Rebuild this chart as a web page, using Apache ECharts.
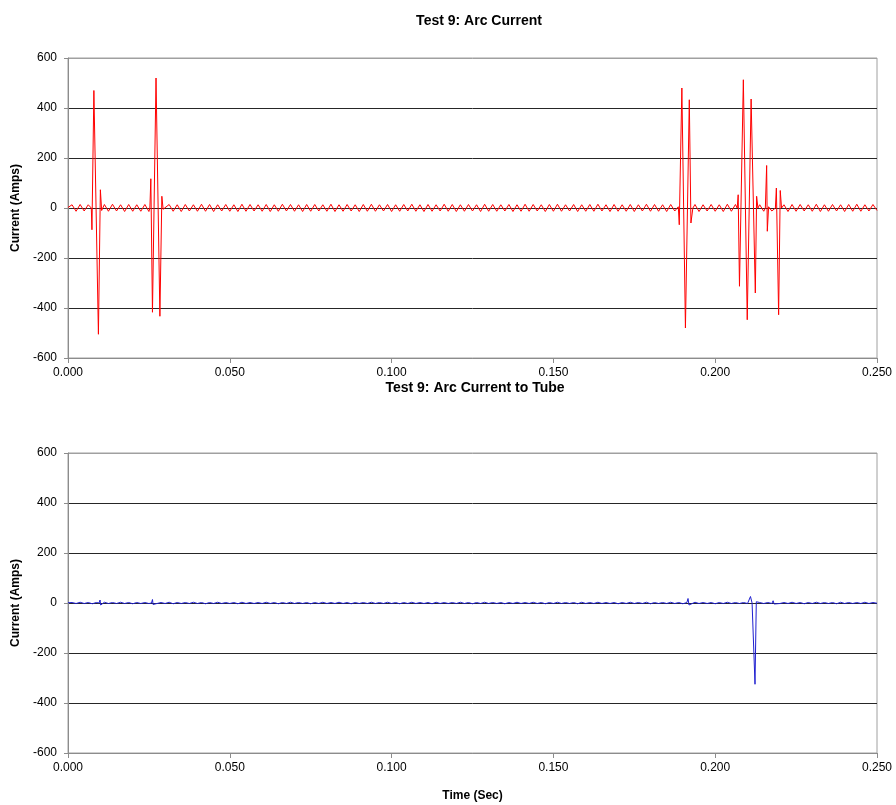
<!DOCTYPE html>
<html>
<head>
<meta charset="utf-8">
<script src="https://cdn.jsdelivr.net/npm/echarts@6/dist/echarts.min.js"></script>
<style>
html, body { margin: 0; padding: 0; background: #fff; }
#chart { width: 896px; height: 805px; }
</style>
</head>
<body>
<div id="chart"></div>
<script>
// sample spacing of the background ripple (sec)
var STEP = 0.00125;

var timeTicks = [0, 0.05, 0.1, 0.15, 0.2, 0.25];
var currentTicks = [-600, -400, -200, 0, 200, 400, 600];

// Arc current, steady ripple between the strikes
var arcRipple = [
    2, 13, -13, 14, -12, 13, -14, 13, -13, 14, -13, 15, -12, 13, -14, 14, -13, 13, -13, 14,
    -14, 13, -12, 15, -13, 14, -13, 13, -14, 14, -12, 13, -13, 15, -13, 14, -14, 13, -12, 14,
    -13, 13, -14, 15, -13, 14, -12, 13, -13, 14, -14, 13, -13, 15, -12, 14, -13, 13, -14, 14,
    -13, 14, -12, 13, -13, 15, -14, 13, -13, 14, -12, 13, -14, 14, -13, 15, -13, 13, -12, 14,
    -14, 13, -13, 14, -12, 15, -13, 13, -14, 14, -13, 13, -12, 15, -13, 14, -14, 13, -13, 14,
    -12, 13, -14, 15, -13, 14, -13, 13, -12, 14, -14, 13, -13, 15, -13, 14, -12, 13, -14, 14,
    -13, 15, -13, 13, -12, 14, -14, 13, -13, 14, -13, 15, -12, 13, -14, 14, -13, 13, -13, 14,
    -14, 13, -12, 15, -13, 14, -13, 13, -14, 14, -12, 13, -13, 15, -13, 14, -14, 13, -12, 14,
    -13, 13, -14, 15, -13, 14, -12, 13, -13, 14, -14, 13, -13, 15, -12, 14, -13, 13, -14, 14,
    -13, 14, -12, 13, -13, 15, -14, 13, -13, 14, -12, 13, -14, 14, -13, 15, -13, 13, -12, 14,
    -10
];

// Arc current strikes [time, amps]
var arcStrike1 = [[0.0072, 0], [0.0074, -87], [0.0080, 470], [0.0094, -505], [0.0100, 73], [0.0104, -10]];
var arcStrike2 = [[0.0253, 0], [0.0256, 117], [0.0261, -417], [0.0272, 520], [0.0284, -433], [0.0290, 47], [0.0294, -5]];
var arcStrike3 = [[0.1886, 5], [0.1889, -67], [0.1897, 480], [0.1908, -480], [0.1920, 433], [0.1925, -60], [0.1931, 0]];
var arcStrike4 = [[0.2068, 0], [0.2071, 53], [0.2075, -313], [0.2087, 513], [0.2099, -447], [0.2111, 436], [0.2124, -340], [0.2128, 47], [0.2132, 0]];
var arcStrike5 = [[0.2155, 0], [0.2159, 170], [0.2161, -93], [0.2165, 5]];
var arcStrike6 = [[0.2186, 0], [0.2189, 80], [0.2196, -427], [0.2201, 70], [0.2205, 0]];

// Current to tube, nearly flat
var tubeRipple = [
    1, 2, -2, 3, -2, 2, -3, 2, -2, 3, -2, 2, -2, 3, -2, 2, -3, 2, -2, 2,
    -2, 3, -2, 2, -2, 3, -3, 2, -2, 2, -2, 3, -2, 2, -3, 2, -2, 3, -2, 2,
    -2, 2, -3, 3, -2, 2, -2, 2, -2, 3, -2, 2, -3, 2, -2, 3, -2, 2, -2, 2,
    -3, 2, -2, 3, -2, 2, -2, 3, -2, 2, -3, 2, -2, 2, -2, 3, -2, 2, -2, 3,
    -2, 2, -3, 2, -2, 3, -2, 2, -2, 2, -3, 3, -2, 2, -2, 2, -2, 3, -2, 2,
    -3, 2, -2, 3, -2, 2, -2, 2, -3, 2, -2, 3, -2, 2, -2, 3, -2, 2, -3, 2,
    -2, 3, -2, 2, -2, 2, -3, 3, -2, 2, -2, 3, -2, 2, -2, 2, -3, 2, -2, 3,
    -2, 2, -2, 3, -3, 2, -2, 2, -2, 3, -2, 2, -3, 2, -2, 3, -2, 2, -2, 2,
    -3, 2, -2, 3, -2, 2, -2, 2, -2, 3, -3, 2, -2, 2, -2, 3, -2, 2, -2, 3,
    -2, 2, -3, 2, -2, 3, -2, 2, -2, 2, -3, 3, -2, 2, -2, 2, -2, 3, -2, 2,
    -1
];

var tubeStrike1 = [[0.0096, 0], [0.0099, 12], [0.0101, -8], [0.0104, 0]];
var tubeStrike2 = [[0.0258, 0], [0.0261, 14], [0.0263, -6], [0.0266, 0]];
var tubeStrike3 = [[0.1913, 0], [0.1916, 18], [0.1919, -8], [0.1922, 0]];
var tubeStrike4 = [[0.2105, 0], [0.2109, 26], [0.2114, 0], [0.2123, -325], [0.2127, 5], [0.2131, 0]];
var tubeStrike5 = [[0.2176, 0], [0.2179, 9], [0.2182, -4], [0.2185, 0]];

function buildSeries(ripple, strikes) {
    var pts = [];
    for (var i = 0; i < ripple.length; i++) {
        var t = i * STEP;
        var inside = strikes.some(function (s) {
            return t > s[0][0] && t < s[s.length - 1][0];
        });
        if (!inside) pts.push([t, ripple[i]]);
    }
    strikes.forEach(function (s) { pts = pts.concat(s); });
    pts.sort(function (a, b) { return a[0] - b[0]; });
    return pts;
}

var arcData = buildSeries(arcRipple, [arcStrike1, arcStrike2, arcStrike3, arcStrike4, arcStrike5, arcStrike6]);
var tubeData = buildSeries(tubeRipple, [tubeStrike1, tubeStrike2, tubeStrike3, tubeStrike4, tubeStrike5]);

var FONT = 'Liberation Sans, Arial, sans-serif';
var gridColors = currentTicks.map(function (v, i) {
    return (i === 0 || i === currentTicks.length - 1) ? '#a0a0a0' : '#262626';
});

function xAxis(gridIndex, withName) {
    return {
        type: 'value',
        gridIndex: gridIndex,
        min: timeTicks[0],
        max: timeTicks[timeTicks.length - 1],
        interval: 0.05,
        name: withName ? 'Time (Sec)' : '',
        nameLocation: 'middle',
        nameGap: 37,
        nameTextStyle: { fontFamily: FONT, fontSize: 12, fontWeight: 'bold', color: '#000' },
        axisLine: { onZero: false, lineStyle: { color: '#8c8c8c', width: 1 } },
        axisTick: { show: true, length: 5, lineStyle: { color: '#8c8c8c' } },
        axisLabel: {
            margin: 9, fontFamily: FONT, fontSize: 12, color: '#000',
            formatter: function (v) { return v.toFixed(3); }
        },
        splitLine: { show: false }
    };
}

function yAxis(gridIndex) {
    return {
        type: 'value',
        gridIndex: gridIndex,
        min: currentTicks[0],
        max: currentTicks[currentTicks.length - 1],
        interval: 200,
        name: 'Current (Amps)',
        nameLocation: 'middle',
        nameGap: 46,
        nameTextStyle: { fontFamily: FONT, fontSize: 12, fontWeight: 'bold', color: '#000' },
        axisLine: { show: true, lineStyle: { color: '#8c8c8c', width: 1 } },
        axisTick: { show: true, length: 4, lineStyle: { color: '#8c8c8c' } },
        axisLabel: { margin: 11, fontFamily: FONT, fontSize: 12, color: '#000' },
        splitLine: { show: true, lineStyle: { color: gridColors, width: 1 } }
    };
}

var chart = echarts.init(document.getElementById('chart'), null, { renderer: 'canvas' });

var option = {
    animation: false,
    backgroundColor: '#fff',
    title: [
        {
            text: 'Test 9: Arc Current',
            left: 474, top: 9, textAlign: 'center',
            textStyle: { fontFamily: FONT, fontSize: 14, fontWeight: 'bold', color: '#000' }
        },
        {
            text: 'Test 9: Arc Current to Tube',
            left: 470, top: 376, textAlign: 'center',
            textStyle: { fontFamily: FONT, fontSize: 14, fontWeight: 'bold', color: '#000' }
        }
    ],
    grid: [
        { left: 68, right: 19, top: 58, height: 300, show: true, borderColor: '#a0a0a0', borderWidth: 1 },
        { left: 68, right: 19, top: 453, height: 300, show: true, borderColor: '#a0a0a0', borderWidth: 1 }
    ],
    xAxis: [xAxis(0, false), xAxis(1, true)],
    yAxis: [yAxis(0), yAxis(1)],
    series: [
        {
            type: 'line',
            xAxisIndex: 0, yAxisIndex: 0,
            data: arcData,
            showSymbol: false,
            sampling: null,
            lineStyle: { color: '#ff0000', width: 1 },
            z: 5
        },
        {
            type: 'line',
            xAxisIndex: 1, yAxisIndex: 1,
            data: tubeData,
            showSymbol: false,
            lineStyle: { color: '#1f1fd0', width: 1 },
            z: 5
        }
    ]
};

chart.setOption(option);
</script>
</body>
</html>
